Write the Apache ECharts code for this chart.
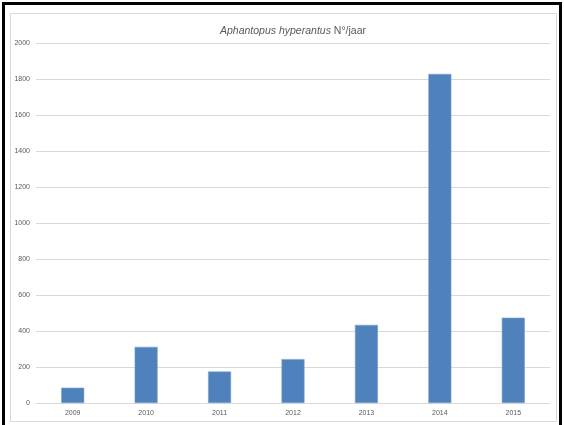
<!DOCTYPE html>
<html>
<head>
<meta charset="utf-8">
<script src="https://cdn.jsdelivr.net/npm/echarts@6/dist/echarts.min.js"></script>
<style>
html,body{margin:0;padding:0;background:#fff;}
#chart{width:564px;height:425px;}
</style>
</head>
<body>
<div id="chart"></div>
<script>
const years = ['2009','2010','2011','2012','2013','2014','2015'];
const counts = [85, 312, 175, 244, 434, 1828, 474];
const titleSpecies = 'Aphantopus hyperantus';
const titleRest = ' N°/jaar';

const chart = echarts.init(document.getElementById('chart'), null, {renderer:'canvas'});
chart.setOption({
  animation: false,
  backgroundColor: '#fff',
  graphic: [
    {type:'rect', shape:{x:3.5, y:3.5, width:557, height:440}, style:{fill:'none', stroke:'#000', lineWidth:3}, z:100},
    {type:'rect', shape:{x:10.5, y:13.5, width:546, height:408}, style:{fill:'none', stroke:'#d9d9d9', lineWidth:1}, z:99}
  ],
  title: {
    text: '{i|' + titleSpecies + '}{n|' + titleRest + '}',
    left: 288, top: 21, textAlign: 'center',
    textStyle: {
      fontWeight: 'normal',
      rich: {
        i: {fontStyle:'italic', fontWeight:'normal', fontSize:10.5, color:'#595959', fontFamily:'Liberation Sans'},
        n: {fontWeight:'normal', fontSize:10.5, color:'#595959', fontFamily:'Liberation Sans'}
      }
    }
  },
  grid: {left:36, right:14, top:43, bottom:22, containLabel:false},
  xAxis: {
    type:'category', data: years,
    axisLine:{lineStyle:{color:'#d9d9d9', width:1}},
    axisTick:{show:false},
    axisLabel:{fontSize:7, color:'#595959', margin:7, fontFamily:'Liberation Sans'}
  },
  yAxis: {
    type:'value', min:0, max:2000, interval:200,
    axisLine:{show:false}, axisTick:{show:false},
    splitLine:{lineStyle:{color:'#d9d9d9', width:1}},
    axisLabel:{fontSize:7, color:'#595959', margin:6, fontFamily:'Liberation Sans', formatter: v => String(v)}
  },
  series: [{
    type:'bar', data: counts, barWidth:23,
    itemStyle:{color:'#4f81bd', borderColor:'#7ba0cf', borderWidth:0.6}
  }]
});
</script>
</body>
</html>
